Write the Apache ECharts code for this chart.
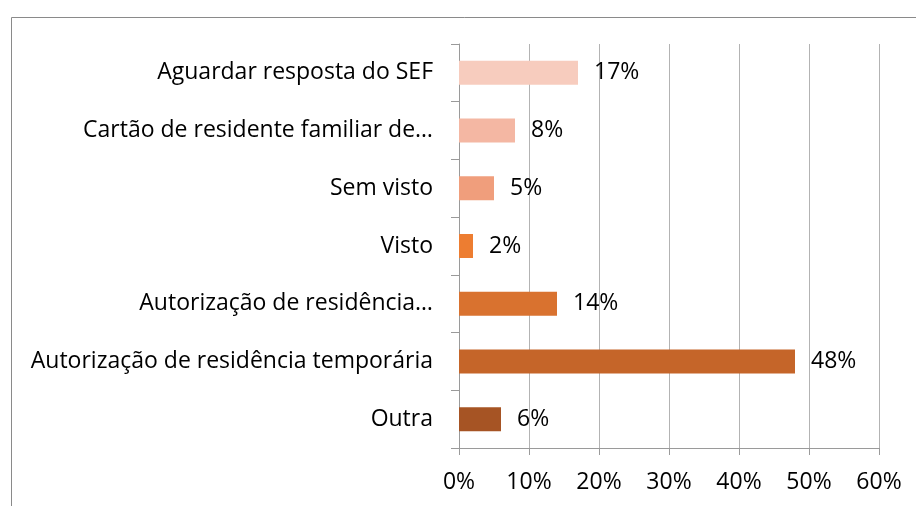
<!DOCTYPE html>
<html>
<head>
<meta charset="utf-8">
<script src="https://cdn.jsdelivr.net/npm/echarts@6/dist/echarts.min.js"></script>
<style>
    html, body { margin: 0; padding: 0; background: #fff; }
    #chart { width: 916px; height: 506px; }
</style>
</head>
<body>
<div id="chart"></div>
<script>
// categorias (de cima para baixo)
var categories = [
    'Aguardar resposta do SEF',
    'Cartão de residente familiar de…',
    'Sem visto',
    'Visto',
    'Autorização de residência…',
    'Autorização de residência temporária',
    'Outra'
]
// valores em %
var values = [17, 8, 5, 2, 14, 48, 6]
var barColors = ['#F7CCBE', '#F4B7A3', '#F09E7C', '#ED7D31', '#D9722F', '#C56529', '#A65424']
var xTicks = [0, 10, 20, 30, 40, 50, 60]

var font = '"Open Sans", Lato, sans-serif'

var chart = echarts.init(document.getElementById('chart'))

var seriesData = values.map(function (v, i) {
    return { value: v, itemStyle: { color: barColors[i] } }
})

var option = {
    animation: false,
    backgroundColor: '#fff',
    graphic: [{
        type: 'rect',
        left: 9, top: 15,
        shape: { width: 1000, height: 1000 },
        style: { fill: 'none', stroke: '#8a8a8a', lineWidth: 1 }
    }],
    grid: { left: 459, right: 37, top: 44, bottom: 58, containLabel: false },
    xAxis: {
        type: 'value',
        min: xTicks[0],
        max: xTicks[xTicks.length - 1],
        interval: 10,
        axisLine: { show: true, lineStyle: { color: '#9a9a9a' } },
        axisTick: { show: true, length: 7, lineStyle: { color: '#9a9a9a' } },
        splitLine: { show: true, lineStyle: { color: '#b3b3b3', width: 1 } },
        axisLabel: {
            formatter: '{value}%',
            fontFamily: font, fontSize: 23, color: '#000', margin: 23
        }
    },
    yAxis: {
        type: 'category',
        inverse: true,
        data: categories,
        axisLine: { show: true, lineStyle: { color: '#9a9a9a' } },
        axisTick: { show: true, length: 8, lineStyle: { color: '#9a9a9a' } },
        axisLabel: { fontFamily: font, fontSize: 23, color: '#000', margin: 26 }
    },
    series: [{
        type: 'bar',
        data: seriesData,
        barWidth: 24,
        label: {
            show: true,
            position: 'right',
            distance: 16,
            formatter: '{c}%',
            fontFamily: font, fontSize: 23, color: '#000'
        }
    }]
}

chart.setOption(option)
</script>
</body>
</html>
